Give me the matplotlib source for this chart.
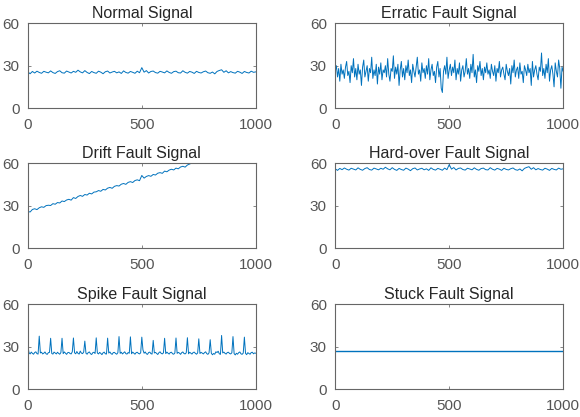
import numpy as np
import matplotlib.pyplot as plt

plt.rcParams['font.family'] = ['Liberation Sans', 'DejaVu Sans']

# signal values (y), x spans 0..1000
normal = [25.6, 24.3, 25.9, 24.8, 26.1, 25.2, 24.6, 26.0, 25.4, 24.9,
          26.3, 25.1, 24.5, 25.8, 26.4, 25.0, 24.7, 26.2, 25.5, 24.8,
          26.0, 25.3, 26.8, 25.6, 24.9, 26.5, 25.2, 24.4, 25.9, 25.1,
          24.6, 26.1, 25.4, 24.3, 25.7, 26.2, 24.8, 25.5, 26.0, 24.9,
          25.6, 24.5, 26.3, 25.2, 24.7, 25.9, 25.3, 24.6, 26.1, 25.0,
          28.6, 25.4, 26.5, 24.8, 25.9, 26.2, 25.1, 24.7, 26.0, 25.5,
          24.9, 26.3, 25.2, 24.6, 25.8, 26.1, 25.0, 24.8, 26.4, 25.3,
          24.7, 25.9, 25.4, 24.5, 26.0, 25.2, 24.8, 25.7, 26.2, 25.0,
          24.6, 25.5, 24.2, 25.9, 26.6, 27.1, 25.3, 26.4, 24.9, 25.8,
          25.1, 24.7, 26.0, 25.4, 24.5, 25.9, 25.2, 24.8, 26.1, 25.3,
          25.6]

erratic = [26, 30, 22, 28, 19, 31, 24, 27, 21, 29,
           33, 23, 26, 18, 30, 25, 35, 22, 28, 20,
           31, 24, 27, 16, 29, 34, 22, 26, 30, 19,
           28, 25, 36, 21, 27, 23, 31, 17, 29, 24,
           32, 20, 27, 25, 30, 22, 35, 24, 19, 28,
           26, 37, 21, 29, 24, 31, 16, 27, 33, 22,
           28, 20, 30, 25, 34, 23, 27, 18, 31, 26,
           22, 29, 36, 24, 27, 19, 32, 25, 28, 21,
           30, 24, 35, 20, 27, 31, 23, 26, 18, 29,
           33, 22, 28, 14, 11, 26, 30, 24, 36, 21,
           27, 31, 23, 29, 25, 34, 20, 28, 24, 32,
           19, 27, 30, 22, 26, 35, 24, 28, 21, 31,
           25, 38, 22, 27, 18, 30, 26, 33, 23, 28,
           20, 29, 25, 32, 24, 27, 21, 31, 26, 23,
           30, 19, 28, 25, 33, 22, 27, 29, 24, 20,
           31, 26, 23, 28, 17, 30, 25, 34, 22, 27,
           29, 21, 32, 24, 26, 18, 30, 27, 23, 31,
           25, 28, 16, 33, 22, 27, 30, 24, 20, 29,
           26, 39, 23, 28, 21, 31, 25, 35, 19, 27,
           30, 24, 15, 32, 26, 22, 34, 28, 14, 29,
           26]

drift = [26.0, 25.6, 27.4, 27.9, 27.3, 28.6, 29.3, 28.9, 30.1, 30.4,
         30.2, 31.5, 31.1, 32.3, 32.0, 33.4, 33.0, 34.1, 34.6, 34.0,
         35.8, 35.2, 36.6, 37.3, 36.7, 38.0, 37.6, 38.9, 38.4, 39.7,
         39.9, 40.8, 40.3, 41.6, 41.2, 42.5, 43.0, 42.4, 43.8, 44.3,
         44.0, 45.3, 45.8, 45.2, 46.6, 47.1, 46.5, 47.9, 48.4, 47.8,
         51.5, 49.6, 50.8, 51.4, 50.9, 52.2, 51.8, 53.1, 53.5, 53.0,
         54.6, 54.1, 55.3, 55.9, 55.4, 56.7, 56.2, 57.5, 58.0, 57.4,
         58.9, 59.6, 60.4, 60.0, 61.3, 61.8, 61.2, 62.6, 63.0, 62.5,
         63.9, 64.4, 63.8, 65.1, 65.6, 65.0, 66.4, 66.9, 66.3, 67.7,
         68.6, 68.0, 69.4, 69.9, 69.3, 70.6, 71.1, 70.5, 71.9, 72.4,
         73.2]

hardover = [56.2, 55.1, 56.5, 55.6, 56.8, 55.9, 55.3, 56.6, 56.0, 55.4,
            56.9, 55.8, 55.2, 56.4, 57.0, 55.7, 55.3, 56.7, 56.1, 55.5,
            56.6, 55.9, 57.3, 56.2, 55.5, 57.0, 55.8, 55.1, 56.5, 55.7,
            55.2, 56.7, 56.0, 54.9, 56.3, 56.8, 55.4, 56.1, 56.6, 55.5,
            56.2, 55.1, 56.9, 55.8, 55.3, 56.5, 55.9, 55.2, 56.7, 55.6,
            59.2, 56.0, 57.1, 55.4, 56.5, 56.8, 55.7, 55.3, 56.6, 56.1,
            55.5, 56.9, 55.8, 55.2, 56.4, 56.7, 55.6, 55.4, 57.0, 55.9,
            55.3, 56.5, 56.0, 55.1, 56.6, 55.8, 55.4, 56.3, 56.8, 55.6,
            55.2, 56.1, 54.8, 56.5, 57.2, 57.7, 55.9, 57.0, 55.5, 56.4,
            55.7, 55.3, 56.6, 56.0, 55.1, 56.5, 55.8, 55.4, 56.7, 55.9,
            56.2]

spike = [31.0, 25.8, 24.9, 26.2, 25.3, 24.7, 25.9, 26.4, 25.1, 24.8,
         37.5, 25.6, 26.1, 24.9, 25.4, 26.3, 25.0, 24.6, 25.8, 26.0,
         36.0, 25.2, 24.8, 26.2, 25.5, 24.9, 26.1, 25.3, 24.7, 25.9,
         36.0, 25.1, 26.3, 25.4, 24.6, 25.8, 26.0, 25.2, 24.9, 26.4,
         36.2, 25.7, 25.0, 26.6, 25.3, 24.8, 26.9, 25.5, 25.1, 26.2,
         34.0, 25.4, 24.7, 25.9, 26.3, 25.0, 24.5, 25.8, 26.1, 25.2,
         36.3, 25.6, 24.9, 26.0, 25.3, 24.4, 25.7, 26.2, 25.0, 24.8,
         36.1, 25.5, 26.3, 25.1, 24.6, 25.9, 26.0, 25.2, 24.7, 25.8,
         37.2, 25.3, 26.1, 24.9, 25.6, 26.4, 25.1, 24.8, 25.9, 25.4,
         37.0, 25.0, 26.2, 25.5, 24.7, 25.8, 26.1, 25.3, 24.9, 25.7,
         36.8, 27.8, 25.4, 26.3, 25.0, 24.6, 25.9, 26.2, 25.1, 24.8,
         34.5, 25.6, 26.0, 25.2, 24.5, 25.8, 26.4, 25.3, 24.9, 25.7,
         36.0, 25.1, 26.2, 25.4, 24.8, 25.9, 26.1, 25.0, 24.7, 25.6,
         36.2, 25.3, 26.0, 25.5, 24.6, 25.8, 26.3, 25.2, 24.9, 25.7,
         36.4, 25.0, 26.1, 25.4, 24.8, 25.9, 26.2, 25.3, 24.7, 25.6,
         35.6, 25.2, 26.0, 25.5, 24.9, 25.8, 26.4, 25.1, 24.6, 25.7,
         35.0, 25.4, 24.3, 25.2, 24.7, 26.4, 25.9, 26.8, 25.0, 24.6,
         38.0, 25.6, 26.2, 25.3, 24.8, 25.9, 26.1, 25.2, 24.9, 25.7,
         37.2, 25.1, 24.2, 25.4, 24.7, 25.8, 26.3, 25.0, 24.6, 25.5,
         36.8, 25.3, 24.4, 25.8, 25.2, 24.7, 25.9, 26.1, 25.0, 25.6,
         25.4]

stuck = [27.0, 27.0]

signals = [normal, erratic, drift, hardover, spike, stuck]
titles = ['Normal Signal', 'Erratic Fault Signal', 'Drift Fault Signal',
          'Hard-over Fault Signal', 'Spike Fault Signal', 'Stuck Fault Signal']

fig = plt.figure(figsize=(5.8, 4.17), dpi=100)

lefts = [0.048, 0.578]
bottoms = [0.741, 0.405, 0.067]
w, h = 0.393, 0.203

for k, (sig, title) in enumerate(zip(signals, titles)):
    ax = fig.add_axes([lefts[k % 2], bottoms[k // 2], w, h])
    x = np.linspace(0, 1000, len(sig))
    lw = 1.0 if sig is stuck else 0.7
    ax.plot(x, sig, color='#0072BD', lw=lw)
    ax.set_xlim(0, 1000)
    ax.set_ylim(0, 60)
    ax.set_xticks([0, 500, 1000])
    ax.set_yticks([0, 30, 60])
    ax.set_title(title, fontsize=11.5, color='#262626', pad=4)
    ax.tick_params(direction='in', length=2, width=0.5, top=True, right=True,
                   labelsize=11, colors='#555555')
    ax.tick_params(axis='x', pad=7)
    ax.tick_params(axis='y', pad=6)
    for s in ax.spines.values():
        s.set_color('#666666')
        s.set_linewidth(0.8)

fig.savefig('out.png', dpi=100)
